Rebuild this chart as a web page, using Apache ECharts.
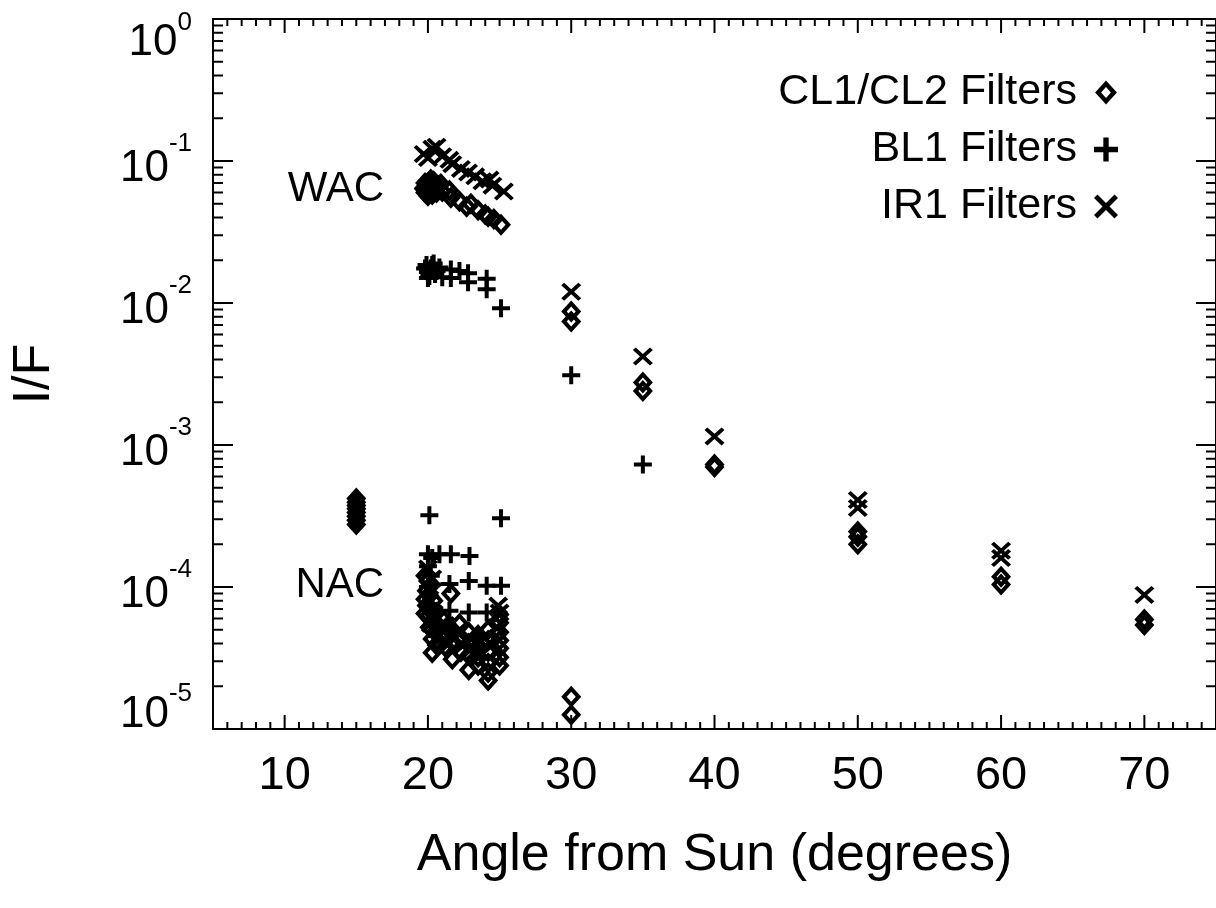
<!DOCTYPE html>
<html>
<head>
<meta charset="utf-8">
<script src="https://cdn.jsdelivr.net/npm/echarts@6/dist/echarts.min.js"></script>
<style>
html,body{margin:0;padding:0;background:#fff;}
#chart{width:1216px;height:908px;}
</style>
</head>
<body>
<div id="chart"></div>
<script>
// ---------- data (angle from Sun in degrees, I/F) ----------
const xTickLabels = [10, 20, 30, 40, 50, 60, 70];
const yTickLabels = [1e-5, 1e-4, 1e-3, 1e-2, 1e-1, 1];
const seriesNames = ['CL1/CL2 Filters', 'BL1 Filters', 'IR1 Filters'];

const clData = [
  [15,4.2e-4],[15,3.95e-4],[15,3.75e-4],[15,3.55e-4],[15,3.35e-4],[15,3.15e-4],[15,2.95e-4],[15,2.75e-4],
  [19.7,0.064],[19.8,0.070],[19.8,0.060],[19.9,0.066],[20.0,0.057],[20.0,0.070],[20.1,0.063],[20.2,0.074],[20.2,0.068],
  [20.3,0.058],[20.4,0.072],[20.5,0.064],[20.6,0.060],[20.7,0.067],[20.9,0.069],[21.0,0.061],[21.5,0.062],[21.6,0.055],
  [22.2,0.052],[22.7,0.0477],[23.0,0.050],[23.5,0.045],[24.0,0.042],[24.2,0.0405],[24.6,0.039],[25.1,0.0356],
  [19.8,1.2e-4],[20.0,1.1e-4],[20.2,1.02e-4],[19.9,9.4e-5],[20.1,8.7e-5],[20.4,8.0e-5],[19.9,7.4e-5],[20.2,6.8e-5],
  [20.0,6.2e-5],[20.4,5.7e-5],[20.1,5.2e-5],[20.5,4.8e-5],[20.3,4.3e-5],[20.6,3.9e-5],[20.3,3.45e-5],
  [19.8,8.2e-5],[19.8,6.5e-5],[20.6,6.6e-5],[20.7,5.3e-5],
  [21.0,6.0e-5],[21.0,4.5e-5],[21.2,3.8e-5],[21.6,9.0e-5],[21.7,5.0e-5],[21.7,4.1e-5],[21.7,3.1e-5],[21.3,5.2e-5],
  [22.2,5.5e-5],[22.3,4.3e-5],[22.3,3.5e-5],[22.85,4.8e-5],[22.85,4.0e-5],[22.85,3.3e-5],[22.85,2.6e-5],
  [23.5,4.6e-5],[23.5,3.8e-5],[23.5,3.2e-5],[23.5,2.8e-5],[23.2,4.2e-5],
  [24.2,5.0e-5],[24.2,4.2e-5],[24.2,3.5e-5],[24.2,2.9e-5],[24.2,2.5e-5],[24.2,2.2e-5],
  [25.0,6.4e-5],[25.0,5.6e-5],[25.0,4.8e-5],[25.0,4.2e-5],[25.0,3.7e-5],[25.0,3.2e-5],[25.0,2.8e-5],
  [30,8.7e-3],[30,7.4e-3],[30,1.69e-5],[30,1.26e-5],
  [35,2.75e-3],[35,2.4e-3],
  [40,7.3e-4],[40,7.0e-4],
  [50,2.46e-4],[50,2.26e-4],[50,2.0e-4],
  [60,1.18e-4],[60,1.04e-4],
  [70,5.9e-5],[70,5.4e-5]
];

const blData = [
  [19.8,0.0175],[19.9,0.0185],[20.0,0.0165],[20.0,0.0150],[20.1,0.0155],[20.2,0.0175],[20.3,0.0185],[20.4,0.019],
  [20.5,0.016],[20.6,0.0168],[20.8,0.0178],[21.0,0.0152],[21.6,0.0172],[21.6,0.0150],[22.2,0.0168],[22.8,0.0162],
  [22.8,0.0140],[24.1,0.0148],[24.1,0.0125],[25.1,0.0092],
  [20.1,3.2e-4],[25.1,3.05e-4],[20.0,1.7e-4],[20.3,1.6e-4],[20.8,1.7e-4],[21.6,1.7e-4],[22.9,1.65e-4],[20.0,1.4e-4],
  [20.2,1.2e-4],[20.0,1.0e-4],[21.5,1.05e-4],[22.85,1.1e-4],[24.1,1.02e-4],[25.1,1.02e-4],[21.5,6.8e-5],[22.85,6.6e-5],
  [24.1,6.6e-5],
  [30,3.1e-3],[35,7.3e-4]
];

const irData = [
  [19.7,0.112],[20.0,0.105],[20.3,0.122],[20.6,0.126],[21.0,0.108],[21.5,0.102],[21.7,0.095],[22.3,0.088],
  [22.8,0.083],[23.3,0.078],[23.8,0.072],[24.3,0.074],[24.5,0.067],[25.3,0.061],
  [20.0,1.35e-4],[20.3,1.15e-4],[20.1,8.2e-5],[20.4,6.5e-5],[20.2,5.5e-5],[20.7,4.5e-5],[21.2,5.4e-5],[21.5,4.0e-5],
  [22.0,4.8e-5],[22.5,3.9e-5],[23.0,4.3e-5],[23.3,3.5e-5],[23.9,4.4e-5],[24.5,3.9e-5],[24.9,7.4e-5],[25.0,6.6e-5],
  [24.8,5.2e-5],
  [30,1.2e-2],[35,4.2e-3],[40,1.15e-3],[50,4.1e-4],[50,3.6e-4],[60,1.8e-4],[60,1.6e-4],[70,8.8e-5]
];

const annotations = [
  ['WAC', 16.94, 0.0627],
  ['NAC', 16.94, 1.03e-4]
];

// ---------- axis decoration (tick positions) ----------
const X_MIN = 5, X_MAX = 75, Y_MIN = 1e-5, Y_MAX = 1;
const xTickVals = [];
for (let v = 6; v < X_MAX; v++) xTickVals.push([v, Y_MIN]);
const yTickVals = [];
for (let e = -5; e <= 0; e++) {
  for (let k = 1; k <= 9; k++) {
    const v = k * Math.pow(10, e);
    if (v > Y_MIN * 1.0001 && v < Y_MAX * 0.9999) yTickVals.push([X_MIN, v, k]);
  }
}

// ---------- symbols ----------
const diamondPath = 'path://M0,-11L10,0L0,11L-10,0ZM0,-5L-4.5,0L0,5L4.5,0Z';
const plusPath = 'path://M-2,-9H2V-2H9V2H2V9H-2V2H-9V-2H-2Z';
const w = 2.6;
const crossPath = 'path://M' + (-9+w) + ',-9L0,' + (-w) + 'L' + (9-w) + ',-9L9,' + (-9+w) + 'L' + w + ',0L9,' + (9-w) +
  'L' + (9-w) + ',9L0,' + w + 'L' + (-9+w) + ',9L-9,' + (9-w) + 'L' + (-w) + ',0L-9,' + (-9+w) + 'Z';

const FONT = '"Liberation Sans", Arial, Helvetica, sans-serif';

const chart = echarts.init(document.getElementById('chart'), null, {renderer: 'canvas'});

const axisLineStyle = {show: true, lineStyle: {color: '#000', width: 2}};

const option = {
  backgroundColor: '#ffffff',
  animation: false,
  grid: {left: 213, top: 19, width: 1008, bottom: 179, containLabel: false},
  legend: {
    orient: 'vertical',
    align: 'right',
    right: 93,
    top: 66,
    itemWidth: 24,
    itemHeight: 24,
    itemGap: 14,
    selectedMode: false,
    textStyle: {fontSize: 43, color: '#000', fontFamily: FONT, padding: [0, 12, 0, 0]},
    data: [
      {name: seriesNames[0], icon: diamondPath},
      {name: seriesNames[1], icon: plusPath},
      {name: seriesNames[2], icon: crossPath}
    ]
  },
  xAxis: [
    {
      type: 'value', position: 'bottom', min: X_MIN, max: X_MAX,
      name: 'Angle from Sun (degrees)', nameLocation: 'middle', nameGap: 101,
      nameTextStyle: {fontSize: 52, color: '#000', fontFamily: FONT},
      axisLine: axisLineStyle,
      axisTick: {show: false},
      splitLine: {show: false},
      axisLabel: {customValues: xTickLabels, fontSize: 47, color: '#000', fontFamily: FONT, margin: 24}
    },
    {
      type: 'value', position: 'top', min: X_MIN, max: X_MAX,
      axisLine: axisLineStyle, axisTick: {show: false}, splitLine: {show: false}, axisLabel: {show: false}
    }
  ],
  yAxis: [
    {
      type: 'log', logBase: 10, position: 'left', min: Y_MIN, max: Y_MAX,
      name: 'I/F', nameLocation: 'middle', nameGap: 152, nameRotate: 90,
      nameTextStyle: {fontSize: 52, color: '#000', fontFamily: FONT},
      axisLine: axisLineStyle, axisTick: {show: false}, splitLine: {show: false},
      axisLabel: {
        customValues: yTickLabels,
        margin: 21,
        color: '#000',
        formatter: function (v) {
          const e = Math.round(Math.log10(v));
          if (e === 0) return '{b0|10}{s0|' + e + '}';
          if (e === -5) return '{b5|10}{s5|' + e + '}';
          return '{b|10}{s|' + e + '}';
        },
        rich: {
          b: {fontSize: 44, verticalAlign: 'bottom', color: '#000', fontFamily: FONT},
          s: {fontSize: 26, lineHeight: 60, verticalAlign: 'top', color: '#000', fontFamily: FONT},
          b0: {fontSize: 44, lineHeight: 91, verticalAlign: 'bottom', color: '#000', fontFamily: FONT},
          s0: {fontSize: 26, verticalAlign: 'bottom', padding: [0, 0, 29, 0], color: '#000', fontFamily: FONT},
          b5: {fontSize: 44, verticalAlign: 'top', padding: [12, 0, 0, 0], color: '#000', fontFamily: FONT},
          s5: {fontSize: 26, lineHeight: 97, verticalAlign: 'top', color: '#000', fontFamily: FONT}
        }
      }
    },
    {
      type: 'log', logBase: 10, position: 'right', min: Y_MIN, max: Y_MAX,
      axisLine: axisLineStyle, axisTick: {show: false}, splitLine: {show: false}, axisLabel: {show: false}
    }
  ],
  series: [
    {
      name: seriesNames[0], type: 'scatter', data: clData, symbol: diamondPath, symbolSize: [20, 22],
      itemStyle: {color: '#000', opacity: 1}, xAxisIndex: 0, yAxisIndex: 0
    },
    {
      name: seriesNames[1], type: 'scatter', data: blData, symbol: plusPath, symbolSize: [18, 18],
      itemStyle: {color: '#000', opacity: 1}, xAxisIndex: 0, yAxisIndex: 0
    },
    {
      name: seriesNames[2], type: 'scatter', data: irData, symbol: crossPath, symbolSize: [20, 18],
      itemStyle: {color: '#000', opacity: 1}, xAxisIndex: 0, yAxisIndex: 0
    },
    {
      name: 'annotations', type: 'custom', data: annotations.map(a => [a[1], a[2], a[0]]),
      silent: true, clip: false,
      dimensions: ['x', 'y', {name: 'text', type: 'ordinal'}],
      encode: {x: 0, y: 1},
      renderItem: function (params, api) {
        const item = annotations[params.dataIndex];
        const p = api.coord([item[1], item[2]]);
        return {
          type: 'text',
          x: p[0], y: p[1],
          style: {text: item[0], fill: '#000', font: '42px ' + FONT, align: 'right', verticalAlign: 'middle'}
        };
      }
    },
    {
      name: 'xticks', type: 'custom', data: xTickVals, silent: true, clip: false,
      renderItem: function (params, api) {
        const v = api.value(0);
        const len = (Math.round(v) % 10 === 0) ? 14 : 7;
        const pb = api.coord([v, Y_MIN]);
        const pt = api.coord([v, Y_MAX]);
        return {
          type: 'group',
          children: [
            {type: 'line', shape: {x1: pb[0], y1: pb[1], x2: pb[0], y2: pb[1] - len}, style: {stroke: '#000', lineWidth: 2}},
            {type: 'line', shape: {x1: pt[0], y1: pt[1], x2: pt[0], y2: pt[1] + len}, style: {stroke: '#000', lineWidth: 2}}
          ]
        };
      }
    },
    {
      name: 'yticks', type: 'custom', data: yTickVals, silent: true, clip: false,
      renderItem: function (params, api) {
        const v = api.value(1);
        const k = api.value(2);
        const len = (k === 1) ? 20 : 10;
        const pl = api.coord([X_MIN, v]);
        const pr = api.coord([X_MAX, v]);
        return {
          type: 'group',
          children: [
            {type: 'line', shape: {x1: pl[0], y1: pl[1], x2: pl[0] + len, y2: pl[1]}, style: {stroke: '#000', lineWidth: 2}},
            {type: 'line', shape: {x1: pr[0], y1: pr[1], x2: pr[0] - len, y2: pr[1]}, style: {stroke: '#000', lineWidth: 2}}
          ]
        };
      }
    }
  ]
};

chart.setOption(option);
</script>
</body>
</html>
